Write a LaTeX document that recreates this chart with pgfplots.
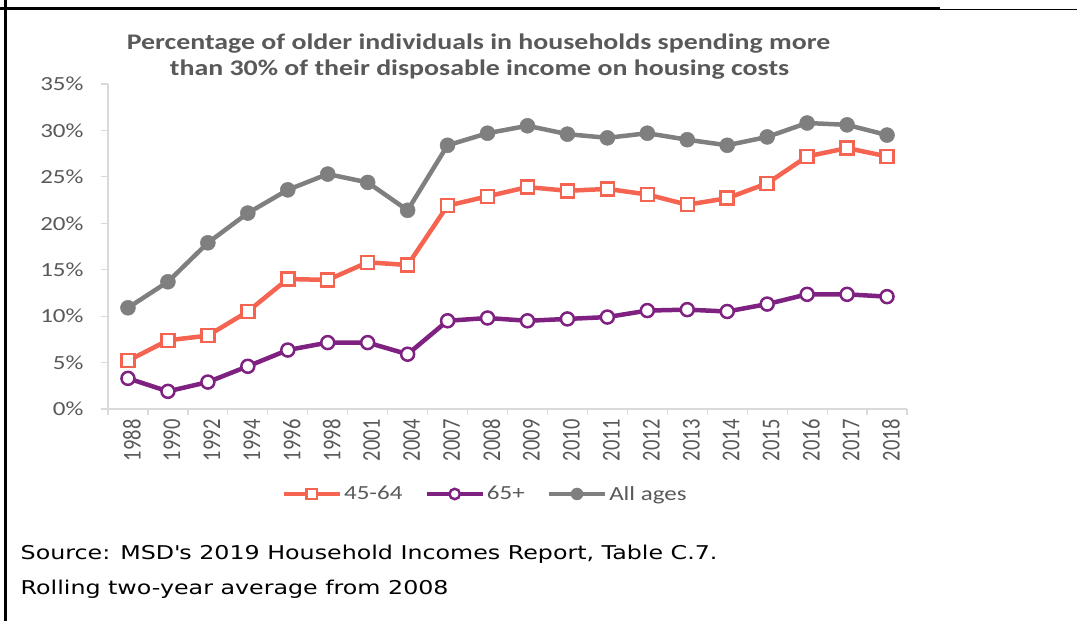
\documentclass[border=0pt]{standalone}
\usepackage{fontspec}
\usepackage{graphicx}
\usepackage{pgfplots}
\pgfplotsset{compat=1.18}
\setmainfont{Carlito}
\newfontfamily\wide[FakeStretch=1.25]{Carlito}
\newfontfamily\verd[FakeStretch=1.25]{DejaVu Sans}
\definecolor{txt}{HTML}{595959}
\definecolor{c1}{HTML}{F46450}
\definecolor{c2}{HTML}{7E2180}
\definecolor{c3}{HTML}{7F7F7F}
\definecolor{axc}{HTML}{D9D9D9}
\newcommand{\rl}[1]{\scalebox{1}[1.25]{#1}}
\begin{document}
\begin{tikzpicture}
\path[use as bounding box] (0pt,0pt) rectangle (1077pt,621pt);
\draw[line width=3pt] (5pt,0pt) -- (5pt,621pt);
\draw[line width=2.5pt] (0pt,612.5pt) -- (940pt,612.5pt);
\draw[line width=1.5pt] (940pt,611.5pt) -- (1077pt,611.5pt);
\node[font=\wide\bfseries\fontsize{22.3}{26}\selectfont, text=txt, anchor=base] at (478.5pt,571pt) {Percentage of older individuals in households spending more};
\node[font=\wide\bfseries\fontsize{22.3}{26}\selectfont, text=txt, anchor=base] at (479.5pt,545pt) {than 30\% of their disposable income on housing costs};
\node[font=\verd\fontsize{19}{22}\selectfont, anchor=base west, inner sep=0pt] at (20.5pt,61.5pt) {Source: MSD\textquotesingle s 2019 Household Incomes Report, Table C.7.};
\node[font=\verd\fontsize{19}{22}\selectfont, anchor=base west, inner sep=0pt] at (20.5pt,26pt) {Rolling two-year average from 2008};
\begin{axis}[
  at={(108pt,212pt)}, anchor=south west, scale only axis,
  width=799pt, height=325pt,
  xmin=-0.5, xmax=19.5, ymin=0, ymax=35,
  axis x line*=bottom, axis y line*=left,
  axis line style={-, draw=axc, line width=1.5pt},
  xtick={0,...,19},
  xticklabels={\rl{1988},\rl{1990},\rl{1992},\rl{1994},\rl{1996},\rl{1998},\rl{2001},\rl{2004},\rl{2007},\rl{2008},\rl{2009},\rl{2010},\rl{2011},\rl{2012},\rl{2013},\rl{2014},\rl{2015},\rl{2016},\rl{2017},\rl{2018}},
  minor xtick={-0.5,0.5,...,19.5},
  ytick={0,5,...,35},
  yticklabel={\pgfmathprintnumber{\tick}\%},
  /pgf/number format/assume math mode=true,
  tick align=outside,
  major tick length=7pt, minor tick length=6pt,
  major x tick style={draw=none},
  minor x tick style={draw=axc, line width=1.2pt},
  major y tick style={draw=axc, line width=1.2pt},
  xticklabel style={rotate=90, anchor=east, font=\fontsize{20.5}{24}\selectfont, text=txt, yshift=-4pt},
  yticklabel style={font=\wide\fontsize{20}{24}\selectfont, text=txt, xshift=-14pt},
  clip=false,
  legend columns=3,
  legend style={at={(0.472,-0.2615)}, anchor=center, draw=none, fill=none,
    font=\wide\fontsize{20}{24}\selectfont, text=txt,
    /tikz/every even column/.append style={column sep=20pt}},
  legend image code/.code={\draw[mark repeat=2,mark phase=2,#1,every mark/.append style={scale=0.8}] plot coordinates {(0pt,0pt) (28pt,0pt) (56pt,0pt)};},
]
\addplot[c1, line width=4.5pt, mark=square*, mark size=6.5pt, mark options={solid, fill=white, draw=c1, line width=2.5pt}] coordinates {
(0,5.2) (1,7.4) (2,7.9) (3,10.5) (4,14.0) (5,13.9) (6,15.8) (7,15.5) (8,21.9) (9,22.9)
(10,23.9) (11,23.5) (12,23.7) (13,23.1) (14,22.0) (15,22.7) (16,24.3) (17,27.2) (18,28.1) (19,27.2)};
\addlegendentry{45-64}
\addplot[c2, line width=4.5pt, mark=*, mark size=6.5pt, mark options={solid, fill=white, draw=c2, line width=2.5pt}] coordinates {
(0,3.3) (1,1.9) (2,2.9) (3,4.6) (4,6.35) (5,7.15) (6,7.15) (7,5.9) (8,9.5) (9,9.8)
(10,9.5) (11,9.7) (12,9.9) (13,10.6) (14,10.7) (15,10.5) (16,11.3) (17,12.35) (18,12.35) (19,12.1)};
\addlegendentry{65+}
\addplot[c3, line width=4.5pt, mark=*, mark size=7.5pt, mark options={solid, fill=c3, draw=c3, line width=0.5pt}] coordinates {
(0,10.9) (1,13.7) (2,17.9) (3,21.1) (4,23.6) (5,25.3) (6,24.4) (7,21.4) (8,28.4) (9,29.7)
(10,30.5) (11,29.6) (12,29.2) (13,29.7) (14,29.0) (15,28.4) (16,29.3) (17,30.8) (18,30.6) (19,29.5)};
\addlegendentry{All ages}
\end{axis}
\end{tikzpicture}
\end{document}
